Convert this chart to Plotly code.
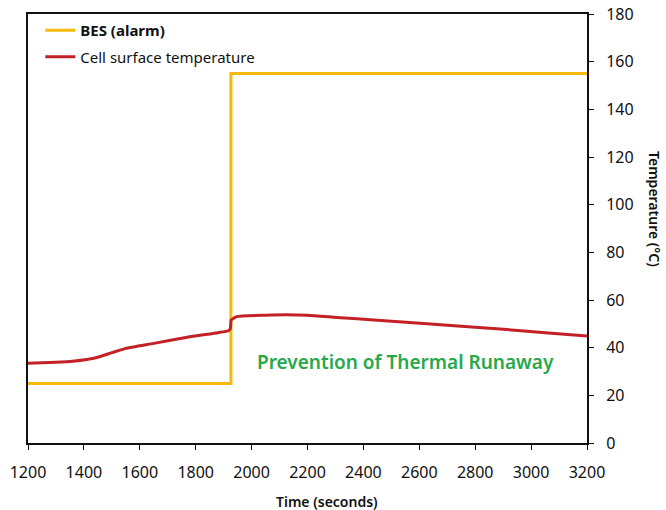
import plotly.graph_objects as go

# Data
bes_time = [1200, 1926, 1926, 3200]
bes_alarm = [25, 25, 155, 155]

cell_time = [1200, 1300, 1360, 1410, 1450, 1500, 1550, 1650, 1770, 1880, 1917, 1924, 1927, 1947,
             2050, 2125, 2200, 2304, 2450, 2603, 2750, 2901, 3050, 3200]
cell_temp = [33.5, 33.9, 34.3, 35.0, 36.0, 37.9, 39.7, 41.8, 44.4, 46.3, 47.1, 48.0, 51.6, 53.0,
             53.6, 53.8, 53.6, 52.7, 51.5, 50.2, 49.0, 47.7, 46.3, 44.9]

x_ticks = [1200, 1400, 1600, 1800, 2000, 2200, 2400, 2600, 2800, 3000, 3200]
y_ticks = [0, 20, 40, 60, 80, 100, 120, 140, 160, 180]

YELLOW = "#F6B90C"
RED = "#C42127"
GREEN = "#27A84A"
FONT = "Noto Sans"

fig = go.Figure()
fig.add_trace(go.Scatter(x=bes_time, y=bes_alarm, mode="lines", name="<b>BES (alarm)</b>",
                         line=dict(color=YELLOW, width=3), legendgroup="a"))
fig.add_trace(go.Scatter(x=cell_time, y=cell_temp, mode="lines", name="Cell surface temperature",
                         line=dict(color=RED, width=3, shape="spline", smoothing=0.5), legendgroup="b"))

fig.update_layout(
    width=666, height=510,
    margin=dict(l=28, r=79, t=14, b=67, autoexpand=False),
    paper_bgcolor="white", plot_bgcolor="white",
    font=dict(family=FONT, size=16, color="#111"),
    showlegend=True,
    legend=dict(x=0.022, y=1.0, xanchor="left", yanchor="top",
                bgcolor="rgba(0,0,0,0)", font=dict(size=15, color="#111"),
                tracegroupgap=4, traceorder="grouped"),
    xaxis=dict(range=[1200, 3200], tickvals=x_ticks, ticktext=[str(v) for v in x_ticks],
               showgrid=False, zeroline=False, showline=True, linecolor="#111", linewidth=2,
               mirror=True, ticks="outside", ticklen=5, tickcolor="#111",
               ticklabelstandoff=9, automargin=False),
    yaxis=dict(range=[0, 180], tickvals=y_ticks, side="right",
               showgrid=False, zeroline=False, showline=True, linecolor="#111", linewidth=2,
               mirror=True, ticks="outside", ticklen=5, tickcolor="#111",
               ticklabelstandoff=9, automargin=False),
    annotations=[
        dict(x=2549, y=34, xref="x", yref="y", text="Prevention of Thermal Runaway",
             showarrow=False, xanchor="center", yanchor="middle",
             font=dict(size=19, color=GREEN, family=FONT, weight=600)),
        dict(x=(327 - 28) / 559, y=-(501 - 443) / 429, xref="paper", yref="paper",
             text="Time (seconds)", showarrow=False, xanchor="center", yanchor="middle",
             font=dict(size=14, color="#111", weight=600)),
        dict(x=(655 - 28) / 559, y=(443 - 209) / 429, xref="paper", yref="paper",
             text="Temperature (°C)", textangle=90, showarrow=False,
             xanchor="center", yanchor="middle",
             font=dict(size=14, color="#111", weight=600)),
    ],
)

fig.write_html("out.html", config={"displayModeBar": False},
               post_script="document.body.style.margin='0';document.body.style.overflow='hidden';")
